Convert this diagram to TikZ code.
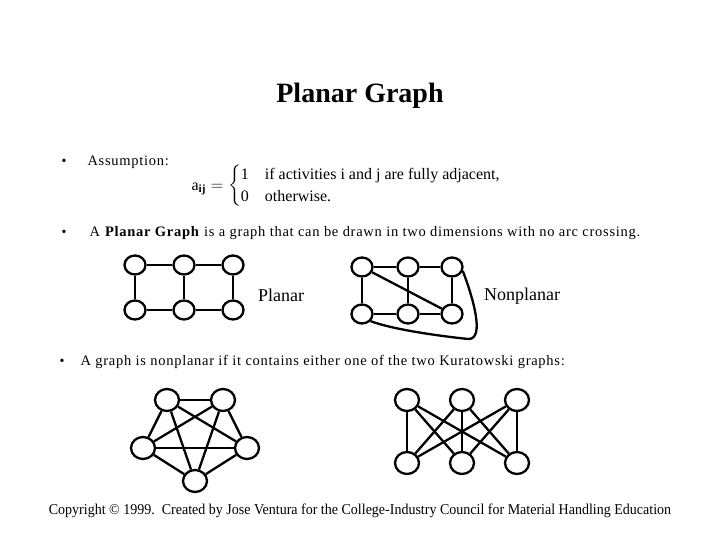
\documentclass[tikz,border=0pt]{standalone}
\usepackage{amsmath}
\usepackage{fontspec}
\setmainfont{Liberation Serif}
\usetikzlibrary{shapes.geometric}
\tikzstyle{vertex} = [draw, line width=2.3pt, ellipse, minimum width=21pt, minimum height=19pt, inner sep=0pt]
\tikzstyle{bigvertex} = [vertex, minimum width=24pt, minimum height=22pt]
\tikzstyle{edge} = [line width=2.3pt]
\tikzstyle{body} = [anchor=west, font=\fontsize{14.5}{17}\selectfont\addfontfeature{LetterSpace=5}]

\begin{document}
\begin{tikzpicture}[x=1pt, y=-1pt]
    \useasboundingbox (0,0) rectangle (720,540);
    % title and bullets
    \node (title) at (360,96) {\fontsize{28}{32}\selectfont\bfseries Planar Graph};
    \node (b1) at (64,162) {\fontsize{14}{15}\selectfont\textbullet};
    \node[body] (assume) at (84,162) {Assumption:};
    \node[anchor=west] (formula) at (188,186) {\fontsize{16}{19}\selectfont
      $\text{a}_{\textbf{ij}}=\begin{cases}\text{1} & \text{if activities i and j are fully adjacent,}\\
      \text{0} & \text{otherwise.}\end{cases}$};
    \node (b2) at (64,233) {\fontsize{14}{15}\selectfont\textbullet};
    \node[body] (def) at (86,233) {A \textbf{Planar Graph} is a graph that can be drawn in two dimensions with no arc crossing.};
    \node (planar) at (281,295) {\fontsize{18}{20}\selectfont Planar};
    \node (nonplanar) at (522,296) {\fontsize{18}{20}\selectfont Nonplanar};
    \node (b3) at (62,362) {\fontsize{14}{15}\selectfont\textbullet};
    \node[body] (kura) at (77,362) {A graph is nonplanar if it contains either one of the two Kuratowski graphs:};
    \node (copy) at (360,511) {\scalebox{0.934}[1]{\fontsize{15}{17}\selectfont Copyright \textcopyright{} 1999.\ \ Created by Jose Ventura for the College-Industry Council for Material Handling Education}};

    % planar graph
    \node[vertex] (p1) at (135,265) {};
    \node[vertex] (p2) at (184,265) {};
    \node[vertex] (p3) at (233,265) {};
    \node[vertex] (p4) at (135,310) {};
    \node[vertex] (p5) at (184,310) {};
    \node[vertex] (p6) at (233,310) {};
    \draw[edge] (p1) -- (p2) -- (p3) -- (p6) -- (p5) -- (p4) -- (p1);
    \draw[edge] (p2) -- (p5);

    % nonplanar graph
    \node[vertex] (n1) at (362,267) {};
    \node[vertex] (n2) at (408,267) {};
    \node[vertex] (n3) at (452,267) {};
    \node[vertex] (n4) at (362,314) {};
    \node[vertex] (n5) at (408,314) {};
    \node[vertex] (n6) at (452,314) {};
    \draw[edge] (n1) -- (n2) -- (n3) -- (n6) -- (n5) -- (n4) -- (n1);
    \draw[edge] (n2) -- (n5);
    \draw[edge] (n1) -- (n6);
    \draw[edge] (n3.-20) .. controls (472,295) and (486,340) .. (468,339)
      .. controls (440,336) and (395,330) .. (n4.-40);

    % K5
    \node[bigvertex] (k1) at (167,400) {};
    \node[bigvertex] (k2) at (223,400) {};
    \node[bigvertex] (k3) at (247,448) {};
    \node[bigvertex] (k4) at (195,481) {};
    \node[bigvertex] (k5) at (143,448) {};
    \foreach \a/\b in {k1/k2,k1/k3,k1/k4,k1/k5,k2/k3,k2/k4,k2/k5,k3/k4,k3/k5,k4/k5}
      \draw[edge] (\a) -- (\b);

    % K3,3
    \node[bigvertex] (t1) at (407,400) {};
    \node[bigvertex] (t2) at (462,400) {};
    \node[bigvertex] (t3) at (517,400) {};
    \node[bigvertex] (u1) at (407,463) {};
    \node[bigvertex] (u2) at (462,463) {};
    \node[bigvertex] (u3) at (517,463) {};
    \foreach \a in {t1,t2,t3}
      \foreach \b in {u1,u2,u3}
        \draw[edge] (\a) -- (\b);
\end{tikzpicture}
\end{document}
